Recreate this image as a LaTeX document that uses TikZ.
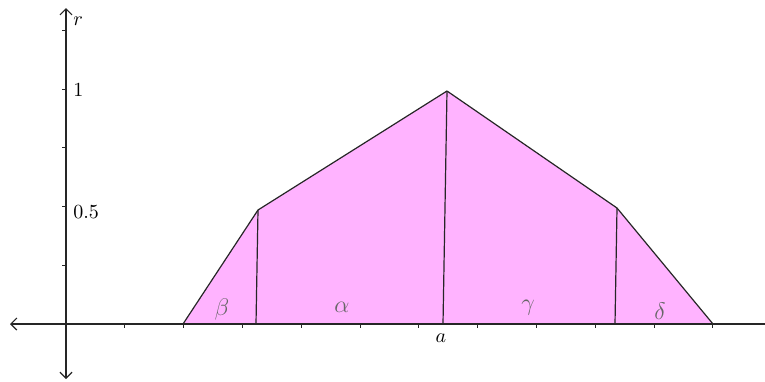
\documentclass[tikz,border=0pt]{standalone}
\usetikzlibrary{arrows.meta}
\definecolor{regionfill}{HTML}{FFB3FF}
\begin{document}
\begin{tikzpicture}[x=0.5pt,y=-0.5pt,
  axisline/.style={line width=0.6pt,black!85},
  edge/.style={line width=0.6pt,black!85},
  tickmark/.style={line width=0.5pt,black!85},
  glabel/.style={text=black!60,inner sep=0pt,font=\large},
  ticklabel/.style={inner sep=0pt}]
\useasboundingbox (0,0) rectangle (765,381);
% region
\coordinate (p0) at (183,324);
\coordinate (p1) at (258,210);
\coordinate (p2) at (447,91);
\coordinate (p3) at (617,208);
\coordinate (p4) at (713,324);
\coordinate (q1) at (256,324);
\coordinate (q2) at (443,324);
\coordinate (q3) at (615,324);
\fill[regionfill] (p0) -- (p1) -- (p2) -- (p3) -- (p4) -- cycle;
% axes
\coordinate (xl) at (10,324);
\coordinate (xr) at (765,324);
\coordinate (yb) at (66,379);
\coordinate (yt) at (66,8);
\draw[axisline,{Straight Barb[length=3pt,width=6pt]}-] (xl) -- (xr);
\draw[axisline,{Straight Barb[length=3pt,width=6pt]}-{Straight Barb[length=3pt,width=6pt]}] (yb) -- (yt);
\foreach \k in {1,...,11} \draw[tickmark] ({66+58.8*\k},324) -- ++(0,4);
\foreach \k in {1,...,5} \draw[tickmark] (66,{324-58.75*\k}) -- ++(-4,0);
% edges
\draw[edge,line join=round] (p0) -- (p1) -- (p2) -- (p3) -- (p4);
\draw[edge] (p1) -- (q1);
\draw[edge] (p2) -- (q2);
\draw[edge] (p3) -- (q3);
% labels
\node[ticklabel,anchor=west] (lr) at (73,21) {$r$};
\node[ticklabel,anchor=west] (l1) at (73,90) {$1$};
\node[ticklabel,anchor=west] (l05) at (73,212) {$0.5$};
\node[ticklabel] (la) at (441,338) {$a$};
\node[glabel] (lb) at (222,309) {$\beta$};
\node[glabel] (lal) at (342,307) {$\alpha$};
\node[glabel] (lg) at (528,308) {$\gamma$};
\node[glabel] (ld) at (660,311) {$\delta$};
\end{tikzpicture}
\end{document}
